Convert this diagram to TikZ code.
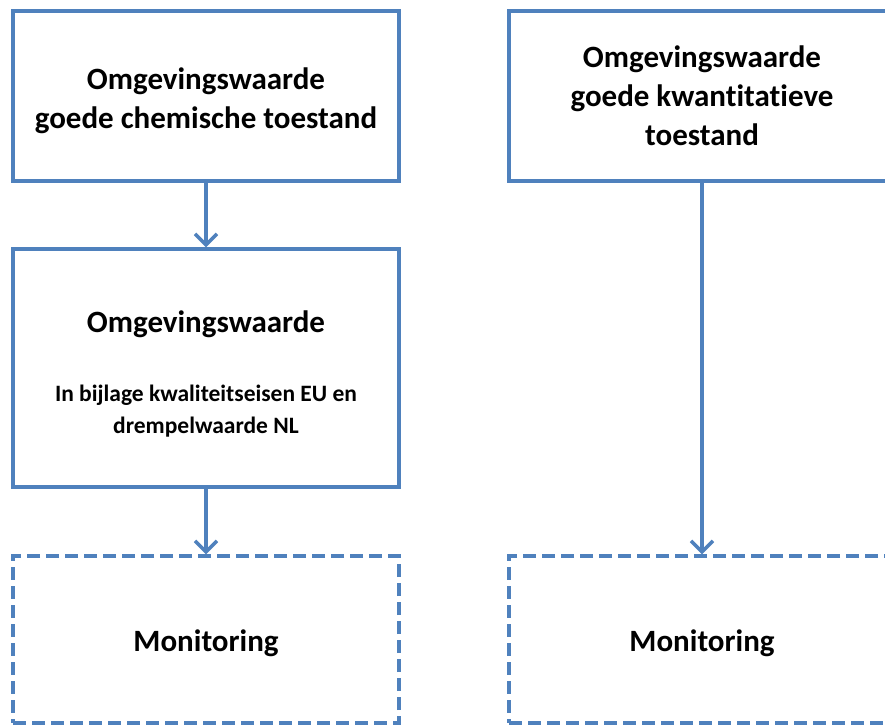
\documentclass[tikz,border=0pt]{standalone}
\usepackage{fontspec}
\setmainfont{Carlito}[Ligatures={NoCommon}]
\usetikzlibrary{arrows.meta, positioning}
\definecolor{boxblue}{HTML}{4F81BD}

\newcommand{\smalltxt}{\fontsize{23.5}{31}\selectfont}

\tikzset{
  box/.style={draw=boxblue, line width=3.5pt, minimum width=386pt, minimum height=170pt,
    align=center, inner sep=0pt, font=\bfseries\fontsize{31}{39}\selectfont},
  monbox/.style={box, dash pattern=on 13pt off 6pt, minimum height=167pt},
  link/.style={draw=boxblue, line width=3.5pt, -{Straight Barb[length=11pt, width=22pt, line width=3.5pt]}}
}

\begin{document}
\begin{tikzpicture}[x=1pt, y=-1pt]
  \useasboundingbox (0,0) rectangle (885,724);

  % left column
  \node[box] (chem) at (206,96) {\rule{0pt}{31pt}Omgevingswaarde\\goede chemische toestand};
  \node[box, minimum height=238pt] (omg) at (206,368)
    {\rule{0pt}{34pt}Omgevingswaarde\\[30pt]\smalltxt In bijlage kwaliteitseisen EU en\\[-7pt]\smalltxt drempelwaarde NL};
  \node[monbox] (mon1) at (206,639.5) {\rule{0pt}{29pt}Monitoring};

  % right column
  \node[box] (kwant) at (702,96) {Omgevingswaarde\\goede kwantitatieve\\toestand};
  \node[monbox] (mon2) at (702,639.5) {\rule{0pt}{29pt}Monitoring};

  % arrows
  \draw[link] (chem) -- (omg);
  \draw[link] (omg) -- (mon1);
  \draw[link] (kwant) -- (mon2);
\end{tikzpicture}
\end{document}
